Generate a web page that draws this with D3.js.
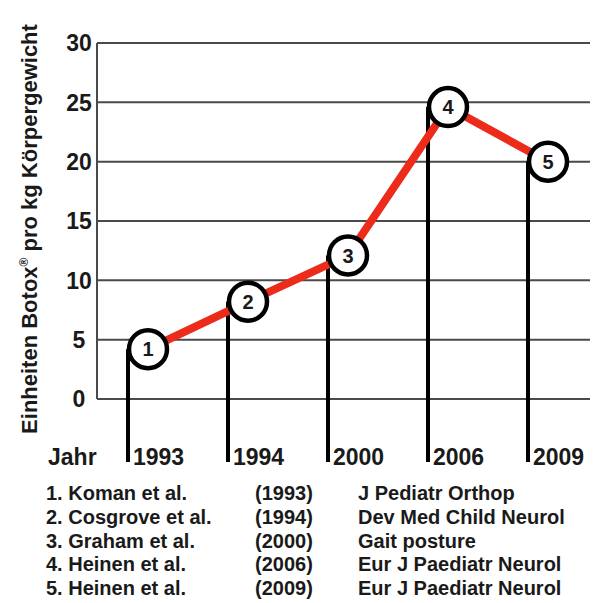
<!DOCTYPE html>
<html>
<head>
<meta charset="utf-8">
<script src="https://cdn.jsdelivr.net/npm/d3@7"></script>
<style>
  html, body { margin: 0; padding: 0; background: #fff; }
  svg { display: block; }
  text { font-family: "Liberation Sans", Arial, Helvetica, sans-serif; font-weight: bold; fill: #1a1a1a; }
</style>
</head>
<body>
<svg id="chart" width="596" height="603"></svg>
<script>
// ---- data ----
const labels = ["1", "2", "3", "4", "5"];
const years = ["1993", "1994", "2000", "2006", "2009"];
const values = [4.2, 8.2, 12.1, 24.6, 20.0];
const yTicks = [0, 5, 10, 15, 20, 25, 30];
const refAuthors = ["1. Koman et al.", "2. Cosgrove et al.", "3. Graham et al.", "4. Heinen et al.", "5. Heinen et al."];
const refYears = ["(1993)", "(1994)", "(2000)", "(2006)", "(2009)"];
const refJournals = ["J Pediatr Orthop", "Dev Med Child Neurol", "Gait posture", "Eur J Paediatr Neurol", "Eur J Paediatr Neurol"];

const svg = d3.select("#chart");
const plotLeft = 97, plotRight = 590;
const y = d3.scaleLinear().domain([0, 30]).range([399, 43]);
const x = d3.scalePoint().domain(labels).range([148, 548]);
const data = labels.map((l, i) => ({ label: l, year: years[i], value: values[i] }));
const r = 19;

// gridlines
svg.append("g").selectAll("line").data(yTicks).join("line")
  .attr("x1", plotLeft).attr("x2", plotRight)
  .attr("y1", d => y(d)).attr("y2", d => y(d))
  .attr("stroke", "#4a4a4a").attr("stroke-width", 2);

// y axis line
svg.append("line").attr("x1", plotLeft).attr("x2", plotLeft)
  .attr("y1", y(30)).attr("y2", y(0)).attr("stroke", "#4a4a4a").attr("stroke-width", 2);

// y tick labels
svg.append("g").selectAll("text").data(yTicks).join("text")
  .attr("x", 79).attr("y", d => y(d)).attr("dy", "0.36em")
  .attr("text-anchor", "middle").attr("font-size", 23)
  .text(d => d);

// y title
const yt = svg.append("text")
  .attr("transform", "translate(37,229) rotate(-90)")
  .attr("text-anchor", "middle").attr("font-size", 22);
yt.append("tspan").text("Einheiten Botox");
yt.append("tspan").attr("font-size", 12).attr("dy", -9).text("®");
yt.append("tspan").attr("dy", 9).text(" pro kg Körpergewicht");

// vertical drop lines
svg.append("g").selectAll("line").data(data).join("line")
  .attr("x1", d => x(d.label) - r - 1).attr("x2", d => x(d.label) - r - 1)
  .attr("y1", d => y(d.value)).attr("y2", 462)
  .attr("stroke", "#000").attr("stroke-width", 4);

// red line
svg.append("path").datum(data)
  .attr("d", d3.line().x(d => x(d.label)).y(d => y(d.value)))
  .attr("fill", "none").attr("stroke", "#ec2b1b").attr("stroke-width", 8);

// circles
svg.append("g").selectAll("circle").data(data).join("circle")
  .attr("cx", d => x(d.label)).attr("cy", d => y(d.value)).attr("r", r)
  .attr("fill", "#fff").attr("stroke", "#000").attr("stroke-width", 4.5);

svg.append("g").selectAll("text").data(data).join("text")
  .attr("x", d => x(d.label)).attr("y", d => y(d.value)).attr("dy", "0.36em")
  .attr("text-anchor", "middle").attr("font-size", 20)
  .text(d => d.label);

// year labels
svg.append("text").attr("x", 48).attr("y", 465).attr("font-size", 23).text("Jahr");
svg.append("g").selectAll("text").data(data).join("text")
  .attr("x", d => x(d.label) - r + 4).attr("y", 465).attr("font-size", 23)
  .text(d => d.year);

// references
const refs = svg.append("g");
const rowY = i => 500 + i * 23.8;
refs.selectAll(".a").data(refAuthors).join("text").attr("class", "a")
  .attr("x", 46).attr("y", (d, i) => rowY(i)).attr("font-size", 20).text(d => d);
refs.selectAll(".b").data(refYears).join("text").attr("class", "b")
  .attr("x", 255).attr("y", (d, i) => rowY(i)).attr("font-size", 20).text(d => d);
refs.selectAll(".c").data(refJournals).join("text").attr("class", "c")
  .attr("x", 358).attr("y", (d, i) => rowY(i)).attr("font-size", 20).text(d => d);
</script>
</body>
</html>
